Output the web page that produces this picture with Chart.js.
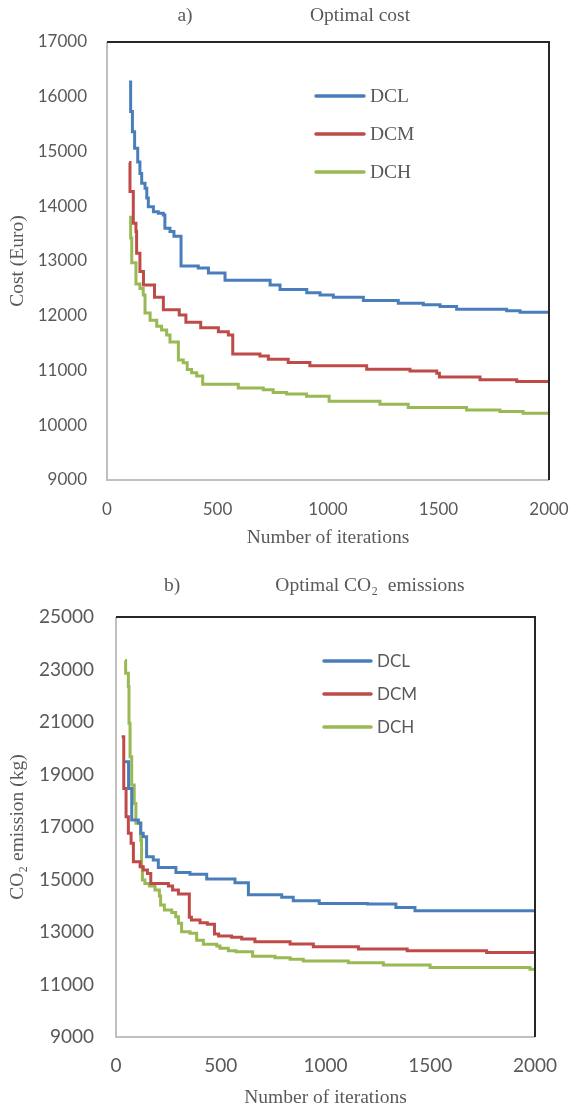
<!DOCTYPE html>
<html>
<head>
<meta charset="utf-8">
<script src="https://cdn.jsdelivr.net/npm/chart.js@4.4.0/dist/chart.umd.min.js"></script>
<style>
body{margin:0;background:#fff;width:571px;height:1110px;overflow:hidden;position:relative}
canvas{position:absolute;left:0}
#grafica1{top:0}
#grafica2{top:555px}
</style>
</head>
<body>
<canvas id="grafica1" width="571" height="560"></canvas>
<canvas id="grafica2" width="571" height="555"></canvas>
<script>
// nombres y colores de las series
var series = ['DCL', 'DCM', 'DCH'];
var colores = ['#4A7EBB', '#BE4B48', '#98B954'];

// a) Optimal cost: iteracion donde empieza cada valor nuevo / valor
var costIterDCL = [100,107,115,125,139,149,157,172,180,187,210,232,255,262,285,303,335,413,459,534,738,783,904,964,1024,1160,1318,1431,1507,1582,1808,1869,2000];
var costDCL = [16270,15730,15360,15060,14810,14600,14420,14330,14150,13990,13900,13870,13840,13600,13540,13450,12910,12870,12780,12650,12560,12480,12420,12380,12340,12280,12230,12200,12170,12120,12090,12065,12060];
var costIterDCM = [100,104,119,131,134,149,165,215,255,327,357,424,504,549,569,692,730,820,918,1175,1371,1492,1504,1688,1854,2000];
var costDCM = [14800,14270,13690,13540,13140,12810,12560,12340,12110,12015,11880,11780,11710,11650,11300,11265,11205,11145,11085,11025,10990,10950,10880,10830,10800,10800];
var costIterDCH = [100,107,112,131,149,164,172,195,225,247,270,285,323,345,363,383,406,433,594,707,752,813,903,1005,1235,1363,1627,1778,1883,2000];
var costDCH = [13800,13420,12970,12580,12500,12380,12050,11920,11810,11740,11650,11520,11190,11140,11020,10960,10900,10750,10680,10650,10600,10570,10530,10440,10385,10325,10280,10250,10220,10220];

// b) Optimal CO2 emissions
var co2IterDCL = [43,60,75,107,118,130,146,178,202,286,353,433,568,632,791,846,970,1200,1336,1427,2000];
var co2DCL = [19490,18470,17270,17150,16760,16630,15870,15740,15460,15270,15200,15020,14880,14420,14320,14190,14090,14065,13930,13810,13810];
var co2IterDCM = [27,37,48,59,72,83,115,130,150,166,250,270,298,350,360,401,436,470,490,552,600,663,831,942,1157,1390,1769,2000];
var co2DCM = [20440,18470,17390,16760,16380,15680,15490,15360,15230,14850,14750,14600,14450,13560,13460,13350,13300,12920,12850,12800,12730,12630,12540,12440,12350,12290,12220,12220];
var co2IterDCH = [43,46,59,62,67,75,87,95,118,122,126,138,159,186,207,213,231,266,285,298,313,353,385,417,481,496,536,573,652,759,831,894,1109,1276,1499,1976,2000];
var co2DCH = [23340,22860,22350,20950,19680,18600,17900,17140,16500,15490,14980,14850,14750,14600,14370,14030,13840,13740,13580,13330,13010,12950,12690,12530,12470,12380,12290,12250,12080,12020,11960,11900,11830,11740,11650,11580,11580];

var gris = '#595959';
var serif = "'Liberation Serif', 'Times New Roman', serif";
var sans = "Lato, 'Liberation Sans', sans-serif";

function puntos(iters, vals){
    return iters.map(function(x, i){ return {x: x, y: vals[i]}; });
}

// marco: izquierda/abajo gris, arriba/derecha oscuro
var bordes = {
    id: 'bordes',
    afterDatasetsDraw: function(chart){
        var a = chart.chartArea, ctx = chart.ctx;
        ctx.save();
        ctx.lineWidth = 2;
        ctx.strokeStyle = '#BFBFBF';
        ctx.beginPath();
        ctx.moveTo(a.left, a.top); ctx.lineTo(a.left, a.bottom); ctx.lineTo(a.right, a.bottom);
        ctx.stroke();
        ctx.strokeStyle = '#262626';
        ctx.beginPath();
        ctx.moveTo(a.left, a.top); ctx.lineTo(a.right, a.top); ctx.lineTo(a.right, a.bottom);
        ctx.stroke();
        ctx.restore();
    }
};

// titulos "a)" / "Optimal cost"
var titulos = {
    id: 'titulos',
    afterDraw: function(chart, args, opts){
        var ctx = chart.ctx;
        ctx.save();
        ctx.fillStyle = gris;
        ctx.font = opts.font;
        ctx.textAlign = 'center';
        ctx.textBaseline = 'middle';
        opts.items.forEach(function(t){ ctx.fillText(t.text, t.x, t.y); });
        ctx.restore();
    }
};

// leyenda dentro del area
var leyenda = {
    id: 'leyenda',
    afterDraw: function(chart, args, opts){
        var ctx = chart.ctx;
        ctx.save();
        chart.data.datasets.forEach(function(ds, i){
            var y = opts.y0 + i * opts.dy;
            ctx.strokeStyle = ds.borderColor;
            ctx.lineWidth = 3.5;
            ctx.lineCap = 'round';
            ctx.beginPath();
            ctx.moveTo(opts.x0, y); ctx.lineTo(opts.x1, y);
            ctx.stroke();
            ctx.fillStyle = gris;
            ctx.font = opts.font;
            ctx.textAlign = 'left';
            ctx.textBaseline = 'middle';
            ctx.fillText(ds.label, opts.textX, y + 1);
        });
        ctx.restore();
    }
};

function hacerGrafica(id, datos, c){
    var conjuntos = datos.map(function(d, i){
        return {
            label: series[i],
            data: d,
            borderColor: colores[i],
            borderWidth: 3,
            pointRadius: 0,
            stepped: true,
            fill: false
        };
    });
    return new Chart(document.getElementById(id), {
        type: 'line',
        data: {datasets: conjuntos},
        plugins: [bordes, titulos, leyenda],
        options: {
            responsive: false,
            animation: false,
            layout: {padding: {top: c.top, right: c.right, left: 0, bottom: 0}},
            scales: {
                x: {
                    type: 'linear', min: 0, max: 2000,
                    grid: {display: false, drawTicks: false}, border: {display: false},
                    ticks: {stepSize: 500, color: gris, padding: c.xPad, font: {family: sans, size: c.tick},
                        callback: function(v){ return String(v); }},
                    title: {display: true, text: 'Number of iterations', color: gris,
                        font: {family: serif, size: 19.5}, padding: {top: 0, bottom: c.xTitlePad}},
                    afterFit: function(s){ s.height = c.xHeight; s.paddingLeft = 0; s.paddingRight = 0; }
                },
                y: {
                    min: c.ymin, max: c.ymax,
                    grid: {display: false, drawTicks: false}, border: {display: false},
                    ticks: {stepSize: c.ystep, color: gris, padding: c.yPad, font: {family: sans, size: c.tick},
                        callback: function(v){ return String(v); }},
                    title: {display: true, text: c.ytitle, color: gris,
                        font: {family: serif, size: 19.5}, padding: {top: 6, bottom: 0}},
                    afterFit: function(s){ s.width = c.left; }
                }
            },
            plugins: {
                legend: {display: false},
                tooltip: {enabled: false},
                titulos: {font: '19.5px ' + serif, items: c.titulos},
                leyenda: c.leyenda
            }
        }
    });
}

hacerGrafica('grafica1',
    [puntos(costIterDCL, costDCL), puntos(costIterDCM, costDCM), puntos(costIterDCH, costDCH)],
    {top: 42, right: 22, left: 107, xHeight: 80, xPad: 19, xTitlePad: 10, yPad: 20, tick: 17,
     ymin: 9000, ymax: 17000, ystep: 1000, ytitle: 'Cost (Euro)',
     titulos: [{text: 'a)', x: 185, y: 16}, {text: 'Optimal cost', x: 360, y: 16}],
     leyenda: {x0: 316, x1: 364, y0: 96, dy: 38, textX: 370, font: '19.5px ' + serif}});

hacerGrafica('grafica2',
    [puntos(co2IterDCL, co2DCL), puntos(co2IterDCM, co2DCM), puntos(co2IterDCH, co2DCH)],
    {top: 62, right: 36, left: 116, xHeight: 73, xPad: 17, xTitlePad: 0, yPad: 22, tick: 19,
     ymin: 9000, ymax: 25000, ystep: 2000, ytitle: 'CO\u2082 emission (kg)',
     titulos: [{text: 'b)', x: 172, y: 31}, {text: 'Optimal CO\u2082  emissions', x: 370, y: 31}],
     leyenda: {x0: 324, x1: 371, y0: 106, dy: 33, textX: 377, font: '17px ' + sans}});
</script>
</body>
</html>
